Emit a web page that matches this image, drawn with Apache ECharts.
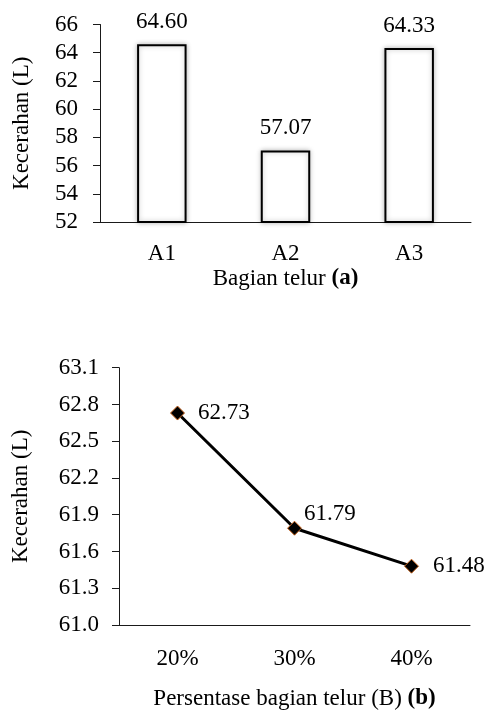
<!DOCTYPE html>
<html>
<head>
<meta charset="utf-8">
<script src="https://cdn.jsdelivr.net/npm/echarts@6/dist/echarts.min.js"></script>
<style>
  html, body { margin: 0; padding: 0; background: #fff; }
  #chart { width: 497px; height: 714px; }
</style>
</head>
<body>
<div id="chart"></div>
<script>
// (a) Kecerahan per bagian telur
const partCategories = ['A1', 'A2', 'A3'];
const partValues = [64.60, 57.07, 64.33];

// (b) Kecerahan per persentase bagian telur
const pctCategories = ['20%', '30%', '40%'];
const pctValues = [62.73, 61.79, 61.48];
const pctTicks = [61.0, 61.3, 61.6, 61.9, 62.2, 62.5, 62.8, 63.1];

const FONT = 'Liberation Serif, Times New Roman, serif';
const FS = 23;
const INK = '#000';

// label placement for each point of the line
const pctLabelLayout = [
  { distance: 13, offset: [0, 0] },
  { distance: 2, offset: [0, -14] },
  { distance: 14, offset: [0, 0] }
];

const axisLine = { lineStyle: { color: '#1a1a1a', width: 1 } };
const axisTick = { length: 7, lineStyle: { color: '#1a1a1a', width: 1 } };
const textBase = { fontFamily: FONT, fontSize: FS, color: INK };

const chart = echarts.init(document.getElementById('chart'), null, { renderer: 'canvas' });

chart.setOption({
  animation: false,
  backgroundColor: '#fff',
  grid: [
    { left: 100, right: 26, top: 24.5, height: 197.5 },
    { left: 119, right: 27, top: 367.7, height: 257.3 }
  ],
  xAxis: [
    {
      gridIndex: 0,
      type: 'category',
      data: partCategories,
      boundaryGap: true,
      axisLine: axisLine,
      axisTick: axisTick,
      axisLabel: Object.assign({ margin: 20 }, textBase),
      name: '{n|Bagian telur }{b|(a)}',
      nameLocation: 'middle',
      nameGap: 45,
      nameTextStyle: {
        rich: {
          n: textBase,
          b: Object.assign({ fontWeight: 'bold' }, textBase)
        }
      }
    },
    {
      gridIndex: 1,
      type: 'category',
      data: pctCategories,
      boundaryGap: true,
      axisLine: axisLine,
      axisTick: axisTick,
      axisLabel: Object.assign({ margin: 22 }, textBase),
      name: '{n|Persentase bagian telur (B) }{b|(b)}',
      nameLocation: 'middle',
      nameGap: 62,
      nameTextStyle: {
        rich: {
          n: textBase,
          b: Object.assign({ fontWeight: 'bold' }, textBase)
        }
      }
    }
  ],
  yAxis: [
    {
      gridIndex: 0,
      type: 'value',
      min: 52,
      max: 66,
      interval: 2,
      axisLine: Object.assign({ show: true }, axisLine),
      axisTick: Object.assign({ show: true }, axisTick),
      splitLine: { show: false },
      axisLabel: Object.assign({ margin: 22 }, textBase),
      name: 'Kecerahan (L)',
      nameLocation: 'middle',
      nameRotate: 90,
      nameGap: 67,
      nameTextStyle: textBase
    },
    {
      gridIndex: 1,
      type: 'value',
      min: pctTicks[0],
      max: pctTicks[pctTicks.length - 1],
      axisLine: Object.assign({ show: true }, axisLine),
      axisTick: Object.assign({ show: true, customValues: pctTicks }, axisTick),
      splitLine: { show: false },
      axisLabel: Object.assign({
        margin: 20,
        customValues: pctTicks,
        formatter: v => v.toFixed(1)
      }, textBase),
      name: 'Kecerahan (L)',
      nameLocation: 'middle',
      nameRotate: 90,
      nameGap: 87,
      nameTextStyle: textBase
    }
  ],
  series: [
    {
      type: 'bar',
      xAxisIndex: 0,
      yAxisIndex: 0,
      data: partValues,
      barWidth: '40%',
      itemStyle: {
        color: '#fff',
        borderColor: '#000',
        borderWidth: 2,
        shadowBlur: 5,
        shadowColor: 'rgba(0,0,0,0.25)'
      },
      label: Object.assign({
        show: true,
        position: 'top',
        distance: 11,
        formatter: p => p.value.toFixed(2)
      }, textBase)
    },
    {
      type: 'line',
      xAxisIndex: 1,
      yAxisIndex: 1,
      data: pctValues.map((v, i) => ({
        value: v,
        label: {
          position: 'right',
          distance: pctLabelLayout[i].distance,
          offset: pctLabelLayout[i].offset
        }
      })),
      symbol: 'diamond',
      symbolSize: 14,
      lineStyle: { color: '#000', width: 3 },
      itemStyle: { color: '#000', borderColor: '#c8641e', borderWidth: 1 },
      label: Object.assign({
        show: true,
        formatter: p => p.value.toFixed(2)
      }, textBase)
    }
  ]
});
</script>
</body>
</html>
